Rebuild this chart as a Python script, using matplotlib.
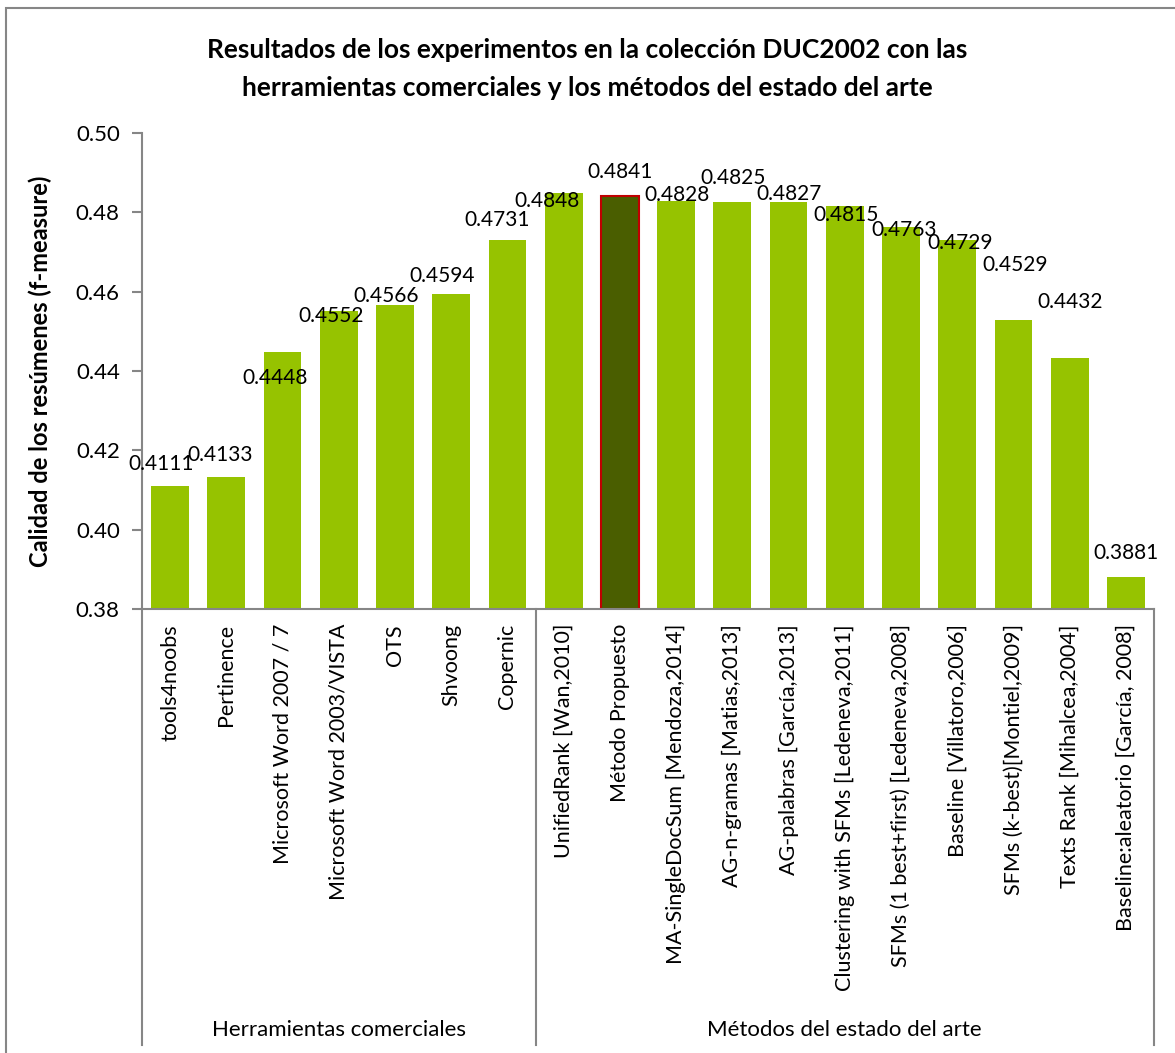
import matplotlib
matplotlib.use("Agg")
import matplotlib.pyplot as plt
import matplotlib.transforms as mtransforms
from matplotlib.patches import Rectangle
from matplotlib.lines import Line2D

plt.rcParams['font.family'] = ['Lato', 'DejaVu Sans']

title_lines = ["Resultados de los experimentos en la colección DUC2002 con las",
               "herramientas comerciales y los métodos del estado del arte"]
ylabel = "Calidad de los resúmenes (f-measure)"

categories = [
    "tools4noobs", "Pertinence", "Microsoft Word 2007 / 7", "Microsoft Word 2003/VISTA",
    "OTS", "Shvoong", "Copernic",
    "UnifiedRank [Wan,2010]", "Método Propuesto", "MA-SingleDocSum [Mendoza,2014]",
    "AG-n-gramas [Matias,2013]", "AG-palabras [García,2013]",
    "Clustering with SFMs [Ledeneva,2011]", "SFMs (1 best+first) [Ledeneva,2008]",
    "Baseline [Villatoro,2006]", "SFMs (k-best)[Montiel,2009]", "Texts Rank [Mihalcea,2004]",
    "Baseline:aleatorio [García, 2008]",
]
values = [0.4111, 0.4133, 0.4448, 0.4552, 0.4566, 0.4594, 0.4731,
          0.4848, 0.4841, 0.4828, 0.4825, 0.4827, 0.4815, 0.4763,
          0.4729, 0.4529, 0.4432, 0.3881]
value_labels = ["0.4111", "0.4133", "0.4448", "0.4552", "0.4566", "0.4594", "0.4731",
                "0.4848", "0.4841", "0.4828", "0.4825", "0.4827", "0.4815", "0.4763",
                "0.4729", "0.4529", "0.4432", "0.3881"]
groups = ["Herramientas comerciales", "Métodos del estado del arte"]
group_sizes = [7, 11]
highlight = "Método Propuesto"
yticks = [0.38, 0.40, 0.42, 0.44, 0.46, 0.48, 0.50]

# label offsets (pixels) relative to bar top centre -- layout only
label_offsets = [(-9, 22), (-6, 22), (-7, -26), (-8, -5), (-9, 9), (-9, 18), (-10, 20),
                 (-17, -8), (0, 24), (1, 6), (1, 24), (1, 8), (1, -9), (3, -3),
                 (3, -3), (2, 55), (0, 56), (0, 24)]

W, H = 1175, 1053
fig = plt.figure(figsize=(W / 100, H / 100), dpi=100)
fig.patch.set_facecolor("white")

# outer border
fig.add_artist(Rectangle((6 / W, -0.01), 1.2, (H - 8) / H + 0.01, transform=fig.transFigure,
                         fill=False, edgecolor="#868686", linewidth=1.5))

left, right, top, bottom = 142, 1154, 133, 609
ax = fig.add_axes([left / W, 1 - bottom / H, (right - left) / W, (bottom - top) / H])

green = "#96C300"
x = list(range(len(categories)))
colors = ["#4A5E00" if c == highlight else green for c in categories]
edges = ["#C00000" if c == highlight else green for c in categories]
lws = [1.5 if c == highlight else 0 for c in categories]
base = yticks[0]
ax.bar(x, [v - base for v in values], bottom=base, width=0.67,
       color=colors, edgecolor=edges, linewidth=lws, zorder=2)

ax.set_xlim(-0.5, len(categories) - 0.5)
ax.set_ylim(yticks[0], yticks[-1])
ax.set_yticks(yticks)
ax.set_yticklabels([f"{t:.2f}" for t in yticks], fontsize=16)
ax.tick_params(axis="y", direction="out", length=7, width=1.5, color="#868686", pad=9)
ax.set_xticks([])
for s in ["top", "right"]:
    ax.spines[s].set_visible(False)
for s in ["left", "bottom"]:
    ax.spines[s].set_color("#868686")
    ax.spines[s].set_linewidth(1.5)

for i, (v, lab) in enumerate(zip(values, value_labels)):
    dx, dy = label_offsets[i]
    ax.annotate(lab, (i, v), xytext=(dx, dy), textcoords="offset pixels",
                ha="center", va="center", fontsize=15, zorder=3)

ax.set_ylabel(ylabel, fontsize=17, fontweight="bold")
ax.yaxis.set_label_coords((52 - left) / (right - left), 0.5)

for k, line in enumerate(title_lines):
    fig.text(0.5, 1 - (50 + 38 * k) / H, line, ha="center", va="center",
             fontsize=19, fontweight="bold")

# category labels
trans = mtransforms.blended_transform_factory(ax.transData, fig.transFigure)
for i, c in enumerate(categories):
    ax.text(i, 1 - 624 / H, c, transform=trans, rotation=90, ha="center", va="top",
            fontsize=15.5, clip_on=False)

# group separators and labels
bounds = [-0.5]
for g in group_sizes:
    bounds.append(bounds[-1] + g)
for b in bounds:
    for (y0, y1) in [(bottom, 997), (999, 1045)]:
        fig.add_artist(Line2D([b, b], [1 - y0 / H, 1 - y1 / H], transform=trans,
                              color="#868686", linewidth=1.5))
for g, a, b in zip(groups, bounds[:-1], bounds[1:]):
    ax.text((a + b) / 2, 1 - 1030 / H, g, transform=trans, ha="center", va="center",
            fontsize=16, clip_on=False)

fig.savefig("out.png", dpi=100)
